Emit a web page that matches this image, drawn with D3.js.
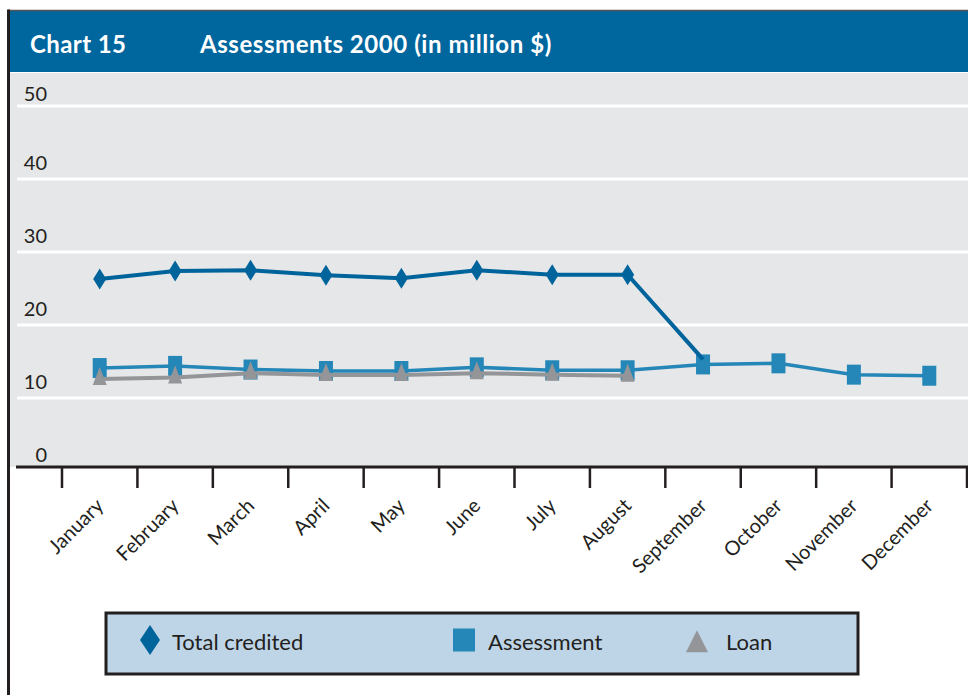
<!DOCTYPE html>
<html>
<head>
<meta charset="utf-8">
<script src="https://cdn.jsdelivr.net/npm/d3@7"></script>
<style>
  html, body { margin: 0; padding: 0; background: #ffffff; }
  svg { display: block; font-family: Lato, "Open Sans", sans-serif; }
</style>
</head>
<body>
<svg id="chart" width="968" height="695"></svg>
<script>
// Monthly assessments for 2000, in million $
const months = ["January", "February", "March", "April", "May", "June",
                "July", "August", "September", "October", "November", "December"];
const totalCredited = [26.3, 27.4, 27.5, 26.8, 26.4, 27.5, 26.9, 26.9, 15.3, null, null, null];
const assessment    = [14.1, 14.4, 13.9, 13.7, 13.7, 14.2, 13.8, 13.8, 14.6, 14.75, 13.2, 13.05];
const loan          = [12.6, 12.8, 13.4, 13.15, 13.15, 13.4, 13.2, 13.05, null, null, null, null];
const yTicks = [0, 10, 20, 30, 40, 50];
const chartNumber = "Chart 15";
const chartTitle = "Assessments 2000 (in million $)";
const legendLabels = ["Total credited", "Assessment", "Loan"];

const colors = {
  header: "#00669e",
  plotBg: "#e6e7e8",
  total: "#00649c",
  assessment: "#2586b8",
  loan: "#939598",
  ink: "#231f20",
  legendBg: "#bed4e7"
};

const W = 968, H = 695;
const plotTop = 73, axisY = 467;
const svg = d3.select("#chart");

const x = d3.scaleBand().domain(months).range([62, 967]).paddingInner(0).paddingOuter(0);
const cx = m => x(m) + x.bandwidth() / 2;
const y = d3.scaleLinear().domain([0, 50]).range([471, 106]);

// Plot background
svg.append("rect").attr("x", 10).attr("y", plotTop).attr("width", W - 10).attr("height", axisY - plotTop)
  .attr("fill", colors.plotBg);

// Header band
svg.append("rect").attr("x", 10).attr("y", 10).attr("width", W - 10).attr("height", 62)
  .attr("fill", colors.header);
svg.append("line").attr("x1", 8).attr("x2", W).attr("y1", 10.5).attr("y2", 10.5)
  .attr("stroke", "#555").attr("stroke-width", 1.5);
svg.append("text").attr("x", 30).attr("y", 53).attr("fill", "#fff")
  .attr("font-weight", 700).attr("font-size", 24).attr("letter-spacing", 0.4).text(chartNumber);
svg.append("text").attr("x", 200).attr("y", 53).attr("fill", "#fff")
  .attr("font-weight", 700).attr("font-size", 24).attr("letter-spacing", 0.55).text(chartTitle);

// Left frame
svg.append("line").attr("x1", 8.5).attr("x2", 8.5).attr("y1", 9.5).attr("y2", H)
  .attr("stroke", colors.ink).attr("stroke-width", 3);

// Gridlines and value labels
const grid = svg.append("g");
grid.selectAll("line").data(yTicks.filter(d => d > 0)).join("line")
  .attr("x1", 17).attr("x2", W)
  .attr("y1", d => y(d)).attr("y2", d => y(d))
  .attr("stroke", "#fff").attr("stroke-width", 3);
grid.selectAll("text").data(yTicks).join("text")
  .attr("x", 47).attr("y", d => Math.max(y(d) - 9.5, 101))
  .attr("text-anchor", "end").attr("font-size", 20).attr("fill", colors.ink)
  .text(d => d);

// Category axis: ticks at band edges, rotated month names
const xAxis = d3.axisBottom(x).tickSize(21).tickFormat("");
const axisG = svg.append("g").attr("transform", `translate(0,${axisY})`).call(xAxis);
axisG.select(".domain").remove();
axisG.selectAll(".tick").attr("transform", d => `translate(${x(d)},0)`);
axisG.selectAll(".tick line").attr("stroke", colors.ink).attr("stroke-width", 2.5);
// closing tick on the right edge of the last band
axisG.append("line").attr("x1", x.range()[1]).attr("x2", x.range()[1]).attr("y1", 0).attr("y2", 21)
  .attr("stroke", colors.ink).attr("stroke-width", 2.5);
svg.append("line").attr("x1", 16).attr("x2", W).attr("y1", axisY).attr("y2", axisY)
  .attr("stroke", colors.ink).attr("stroke-width", 3);

svg.append("g").selectAll("text").data(months).join("text")
  .attr("transform", d => `translate(${cx(d) + 5},507) rotate(-45)`)
  .attr("text-anchor", "end").attr("font-size", 20).attr("fill", colors.ink)
  .text(d => d);

// Series
const pts = vals => months.map((m, i) => ({ m, v: vals[i] })).filter(d => d.v != null);
const line = d3.line().x(d => cx(d.m)).y(d => y(d.v));

const diamond = (w, h) => `M0,${-h / 2}L${w / 2},0L0,${h / 2}L${-w / 2},0Z`;
const square = (w, h) => `M${-w / 2},${-h / 2}h${w}v${h}h${-w}Z`;
const triangle = (w, h) => `M0,${-h * 2 / 3}L${w / 2},${h / 3}L${-w / 2},${h / 3}Z`;

// Assessment
svg.append("path").datum(pts(assessment)).attr("d", line)
  .attr("fill", "none").attr("stroke", colors.assessment).attr("stroke-width", 3.5);
svg.append("g").selectAll("path").data(pts(assessment)).join("path")
  .attr("transform", d => `translate(${cx(d.m)},${y(d.v)})`)
  .attr("d", square(14, 20)).attr("fill", colors.assessment);

// Loan
svg.append("path").datum(pts(loan)).attr("d", line)
  .attr("fill", "none").attr("stroke", colors.loan).attr("stroke-width", 4);
svg.append("g").selectAll("path").data(pts(loan)).join("path")
  .attr("transform", d => `translate(${cx(d.m)},${y(d.v)})`)
  .attr("d", triangle(14, 18)).attr("fill", colors.loan);

// Total credited: the September point closes the line onto the assessment square
const totalPts = pts(totalCredited);
svg.append("path").datum(totalPts).attr("d", line)
  .attr("fill", "none").attr("stroke", colors.total).attr("stroke-width", 4);
svg.append("g").selectAll("path").data(totalPts.filter(d => loan[months.indexOf(d.m)] != null)).join("path")
  .attr("transform", d => `translate(${cx(d.m)},${y(d.v)})`)
  .attr("d", diamond(13, 21)).attr("fill", colors.total);

// Legend
const legend = svg.append("g");
legend.append("rect").attr("x", 106).attr("y", 613).attr("width", 752).attr("height", 61)
  .attr("fill", colors.legendBg).attr("stroke", colors.ink).attr("stroke-width", 3);
const legendItems = [
  { label: legendLabels[0], shape: diamond(20, 30), color: colors.total, mx: 150, tx: 172 },
  { label: legendLabels[1], shape: square(22, 23), color: colors.assessment, mx: 464, tx: 488 },
  { label: legendLabels[2], shape: triangle(22, 22), color: colors.loan, mx: 697, tx: 726 }
];
const li = legend.selectAll("g.item").data(legendItems).join("g").attr("class", "item");
li.append("path").attr("transform", (d, i) => `translate(${d.mx},${i === 2 ? 645 : 640})`)
  .attr("d", d => d.shape).attr("fill", d => d.color);
li.append("text").attr("x", d => d.tx).attr("y", 650).attr("font-size", 22).attr("fill", colors.ink)
  .text(d => d.label);
</script>
</body>
</html>
